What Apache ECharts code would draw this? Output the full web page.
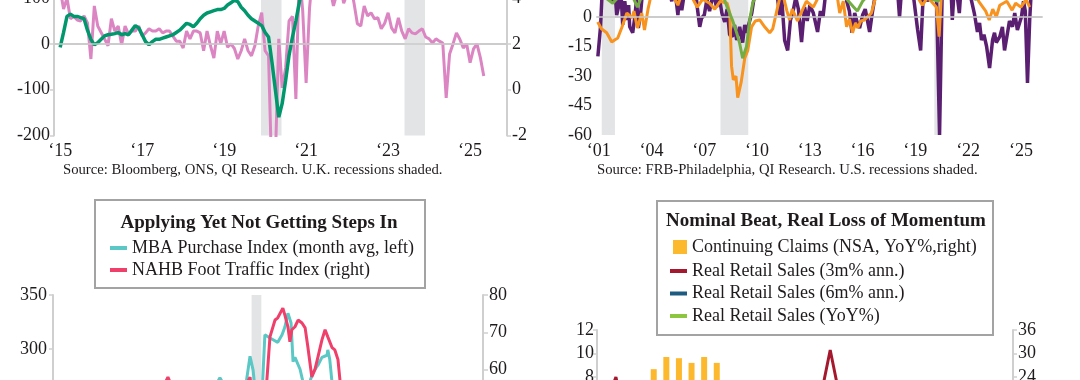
<!DOCTYPE html>
<html><head><meta charset="utf-8">
<script src="https://cdn.jsdelivr.net/npm/echarts@6/dist/echarts.min.js"></script>
<style>
html,body{margin:0;padding:0;width:1080px;height:380px;overflow:hidden;background:#fff;}
.p{position:absolute;}
</style></head><body>
<div id="tl" class="p" style="left:0;top:-100px;width:540px;height:300px"></div>
<div id="tr" class="p" style="left:540px;top:-100px;width:540px;height:300px"></div>
<div id="bl" class="p" style="left:0;top:190px;width:540px;height:400px"></div>
<div id="br" class="p" style="left:540px;top:190px;width:540px;height:400px"></div>
<script>
// ---------- DATA ----------
// Top-left (UK): monthly from Jan 2015
const ukStart = 2015;
const ukYears = [2015, 2017, 2019, 2021, 2023, 2025];
const ukRecessions = [[2019.9, 2020.4], [2023.4, 2023.9]];
const ukPink = [120,76,100,55,60,52,50,61,46,-33,83,39,
  25,11,-4,55,28,39,-2,39,22,28,28,39,
  17,24,33,28,28,33,24,28,28,17,6,6,
  -9,28,11,28,28,24,-15,28,-4,-31,28,0,
  28,-7,0,-10,-33,-15,11,-15,-26,-4,40,68,
  -15,-26,-300,-250,11,-96,-52,50,60,-120,160,72,
  -85,78,160,180,170,140,150,120,83,110,130,89,
  110,130,90,44,39,83,61,68,55,57,33,45,
  68,35,24,57,28,11,33,24,22,28,33,15,
  11,2,11,6,2,-118,-22,0,24,10,-9,0,
  -41,-11,0,-30,-70];
const ukGreen = [1.85,2.5,3.2,3.3,3.2,3.2,3.15,3.1,2.6,2.2,1.96,2.05,
  2.2,2.35,2.4,2.42,2.45,2.5,2.4,2.45,2.4,2.6,2.8,2.7,
  2.4,2.1,1.96,2.1,2.2,2.2,2.25,2.3,2.35,2.4,2.5,2.6,
  2.75,2.9,2.85,2.75,2.9,3.1,3.25,3.35,3.4,3.45,3.5,3.5,
  3.55,3.7,3.8,3.9,3.85,3.6,3.45,3.25,3.1,3.0,2.9,2.8,
  2.5,2.3,1.2,0.0,-1.2,-0.6,0.4,1.5,2.3,3.0,3.8,4.6];

// Top-right (US, FRB-Philadelphia): [year, value]
const usYears = [2001, 2004, 2007, 2010, 2013, 2016, 2019, 2022, 2025];
const usRecessions = [[2001.17, 2001.92], [2007.92, 2009.5], [2020.08, 2020.33]];
const usPurple = [[2000.95,-20],[2001.1,-5],[2001.2,14],[2001.4,18],[2001.6,11],[2001.8,7],[2001.9,16],[2002.02,1],[2002.12,5],[2002.25,15],[2002.36,-4],[2002.48,8],[2002.59,-1.5],[2002.7,6],[2002.76,-5],[2002.93,-8],[2003.05,0],[2003.15,9],[2003.25,-5.6],[2003.38,2],[2003.5,14],[2003.7,25],[2004.0,32],[2004.4,28],[2004.7,24],[2004.95,16],[2005.15,8],[2005.3,16],[2005.5,1],[2005.6,12],[2005.72,3.5],[2005.9,14],[2006.1,18],[2006.3,9],[2006.5,14],[2006.6,5],[2006.74,-5],[2006.85,-0.5],[2007.0,1],[2007.15,9],[2007.3,3],[2007.5,12],[2007.7,5],[2007.85,10],[2008.0,2],[2008.16,-2.5],[2008.3,4],[2008.44,-9],[2008.6,-10],[2008.72,-4],[2008.84,-11.7],[2009.01,-5],[2009.18,-13],[2009.3,-4],[2009.4,-8],[2009.7,2],[2009.9,14],[2010.2,20],[2010.5,12],[2010.8,18],[2011.0,22],[2011.28,1],[2011.4,10],[2011.57,-12],[2011.74,-17],[2011.9,-1.5],[2012.05,3],[2012.2,10],[2012.35,4],[2012.53,-12.7],[2012.7,5],[2012.85,-2],[2013.0,6],[2013.2,2],[2013.44,-7.6],[2013.6,3],[2013.75,0],[2013.9,12],[2014.2,18],[2014.6,22],[2014.9,20],[2015.1,8],[2015.25,3],[2015.4,-8],[2015.55,2],[2015.7,-3],[2015.83,-5.6],[2016.0,1],[2016.15,4],[2016.4,-7.6],[2016.55,2],[2016.7,10],[2016.95,20],[2017.2,35],[2017.6,25],[2017.9,24],[2018.1,0],[2018.25,18],[2018.6,14],[2018.9,10],[2019.13,-6.6],[2019.3,-17],[2019.45,12],[2019.7,8],[2019.85,14],[2020.0,10],[2020.2,12],[2020.375,-60],[2020.55,25],[2020.8,30],[2021.0,20],[2021.1,-1.5],[2021.25,20],[2021.5,2],[2021.7,28],[2022.0,15],[2022.2,8],[2022.35,2],[2022.53,-7.6],[2022.65,-3],[2022.76,-11.7],[2022.9,-9],[2023.05,-15],[2023.22,-26],[2023.39,-11.7],[2023.5,-8],[2023.6,-13],[2023.8,-10],[2023.95,-5],[2024.07,-17],[2024.24,-8],[2024.35,-2],[2024.52,-5],[2024.65,2],[2024.8,-6.6],[2025.03,0],[2025.15,8],[2025.25,3],[2025.375,-33.5],[2025.5,-1.5],[2025.6,15]];
const usOrange = [[2000.94,-2.5],[2001.15,-6],[2001.45,-8],[2001.74,-12.7],[2001.9,-11.7],[2002.08,-10.7],[2002.3,-5.6],[2002.6,2],[2002.9,-0.5],[2003.0,3],[2003.2,-5.6],[2003.44,2],[2003.6,-6.6],[2003.8,4],[2004.0,12],[2004.5,22],[2005.0,15],[2005.5,6],[2005.8,14],[2006.3,10],[2006.6,5],[2006.9,9],[2007.3,7],[2007.6,4],[2007.9,8],[2008.3,7],[2008.45,2],[2008.55,-25],[2008.65,-32],[2008.8,-30],[2008.9,-41],[2009.1,-33],[2009.3,-21],[2009.47,-17],[2009.69,-5],[2009.9,-2],[2010.15,-1.5],[2010.43,-5],[2010.72,-8],[2010.89,-6],[2011.17,5],[2011.4,14],[2011.7,3],[2011.85,-1.5],[2012.0,4],[2012.3,-2],[2012.55,3],[2012.8,8],[2013.2,5],[2013.6,12],[2014.0,18],[2014.4,20],[2014.7,2],[2014.9,8],[2015.09,-5],[2015.25,-1],[2015.43,-8],[2015.6,-3],[2015.72,-5.6],[2015.9,-2],[2016.1,-1.5],[2016.5,2],[2016.8,12],[2017.2,25],[2018.0,22],[2019.0,12],[2019.4,6],[2019.7,10],[2020.2,5],[2020.35,-10],[2020.5,15],[2021.0,35],[2022.0,25],[2022.6,8],[2023.0,3],[2023.2,-1.5],[2023.4,4],[2023.6,0],[2023.8,6],[2024.2,8],[2024.5,3.5],[2024.7,7],[2025.0,5],[2025.3,9],[2025.5,5]];
const usGreen = [[2000.95,12],[2001.5,9],[2001.8,7],[2002.1,10],[2002.5,12],[2003.0,9],[2003.2,5],[2003.5,12],[2004.0,25],[2006.0,18],[2007.5,12],[2008.1,10],[2008.3,5],[2008.6,-1.5],[2008.84,-8],[2009.0,-13],[2009.18,-21],[2009.4,-15],[2009.58,-1.5],[2009.75,7],[2010.0,12],[2011.0,16],[2013.0,12],[2015.0,10],[2015.5,5],[2015.7,3],[2016.0,8],[2017.0,18],[2019.0,12],[2020.3,8],[2021.0,25],[2022.4,9],[2023.0,10],[2025.0,12],[2025.6,12]];

// Bottom-left: [year, value]
const hYears = [2015, 2017, 2019, 2021, 2023, 2025];
const hRecessions = [[2020.08, 2020.33]];
const mbaPurchase = [[2015.0,200],[2016.0,220],[2017.0,235],[2018.0,240],[2018.8,255],[2019.1,262],[2019.27,273],[2019.45,262],[2019.7,255],[2019.9,258],[2020.04,293],[2020.12,280],[2020.2,250],[2020.3,215],[2020.37,275],[2020.42,313],[2020.55,310],[2020.75,306],[2020.86,313],[2020.93,320],[2021.01,333],[2021.09,324],[2021.14,288],[2021.19,292],[2021.32,281],[2021.39,270],[2021.5,262],[2021.65,278],[2021.78,285],[2021.88,292],[2022.01,294],[2022.03,299],[2022.08,290],[2022.14,268],[2022.3,240],[2022.8,180],[2023.5,160],[2024.5,150],[2025.5,165]];
const nahbTraffic = [[2015.0,45],[2016.0,48],[2017.0,52],[2017.8,55],[2017.94,58],[2018.1,54],[2019.0,50],[2019.9,55],[2020.04,58],[2020.2,45],[2020.35,35],[2020.47,57],[2020.55,68.8],[2020.68,73.3],[2020.75,73.9],[2020.88,76.5],[2020.93,74.7],[2021.01,71.5],[2021.06,67.5],[2021.11,70.7],[2021.19,71.5],[2021.27,73.3],[2021.37,72.5],[2021.45,71.2],[2021.52,66.1],[2021.62,58.1],[2021.7,60],[2021.78,63.5],[2021.88,68],[2021.96,70.7],[2022.03,68.8],[2022.14,65.9],[2022.21,65.3],[2022.29,62.7],[2022.34,57.3],[2022.5,50],[2023.0,40],[2024.0,35],[2025.0,30],[2025.5,28]];
const hLeftTicks = [100, 150, 200, 250, 300, 350];
const hRightTicks = [10, 20, 30, 40, 50, 60, 70, 80];

// Bottom-right: monthly categories
const rsMonths = ['Nov-22','Dec-22','Jan-23','Feb-23','Mar-23','Apr-23','May-23','Jun-23','Jul-23','Aug-23','Sep-23','Oct-23','Nov-23','Dec-23','Jan-24','Feb-24','Mar-24','Apr-24','May-24','Jun-24','Jul-24','Aug-24','Sep-24','Oct-24','Nov-24','Dec-24','Jan-25','Feb-25','Mar-25','Apr-25','May-25','Jun-25','Jul-25'];
const claimsYoY = [14,18,20,22,26.0,29.1,28.8,27.6,29.1,27.6,21,19,16,13,10,8,6,5,4,5,6,5,4,5,6,7,6,5,4,5,6,5,4];
const rrs3m = [5,8.0,3,5,2,0,1,3,2,4,3,1,-1,2,3,0,2,5,10.3,5,3,4,2,5,6,4,2,0,-2,1,3,2,1];
const rrs6m = [4,5,5,4,3,2,2,2,2,3,2,2,1,1,2,2,2,3,5,6,5,4,4,3,4,5,4,3,2,1,1,2,2];
const rrsYoY = [1,1,0,1,1,0,0,1,1,2,2,2,2,2,1,1,1,2,2,3,3,3,3,3,3,3,3,2,2,2,2,2,2];

// ---------- STYLE ----------
const FONT = "'Liberation Serif', 'DejaVu Serif', serif";
const TXT = '#1f1b1c';
const AX = '#cfcfcf';
const SHADE = '#e2e4e6';
const yr2 = v => '\u2018' + String(Math.round(v)).slice(2);
const lbl = (extra) => Object.assign({fontFamily: FONT, fontSize: 18, color: TXT}, extra || {});
const axLine = {show: true, lineStyle: {color: AX, width: 2}};
const tick = (len) => ({show: true, length: len, lineStyle: {color: AX, width: 1.5}});
const shadeSeries = (periods, extra) => Object.assign({
  type: 'line', data: [], z: 1, silent: true,
  markArea: {silent: true, itemStyle: {color: SHADE}, data: periods.map(r => [{xAxis: r[0]}, {xAxis: r[1]}])}
}, extra || {});
const zeroLine = {silent: true, symbol: 'none', label: {show: false}, lineStyle: {color: '#cbcbcb', width: 1.5, type: 'solid'}, data: [{yAxis: 0}]};
const lineS = (data, color, width, yi, z) => ({type: 'line', data: data, yAxisIndex: yi, symbol: 'none', z: z,
  lineStyle: {color: color, width: width}, itemStyle: {color: color}, clip: true, animation: false});
const legTxt = {fontFamily: FONT, fontSize: 18, color: TXT, lineHeight: 22};

// ---------- TOP LEFT ----------
echarts.init(document.getElementById('tl')).setOption({
  animation: false,
  grid: {left: 54, top: 52.3, width: 453, height: 183.2},
  xAxis: {type: 'value', min: 2014.85, max: 2025.9, axisLine: axLine, axisTick: {show: false}, splitLine: {show: false},
    axisLabel: lbl({customValues: ukYears, formatter: yr2, margin: 7})},
  yAxis: [
    {type: 'value', min: -200, max: 200, interval: 100, axisLine: axLine, axisTick: tick(4), splitLine: {show: false}, axisLabel: lbl({margin: 4})},
    {type: 'value', min: -2, max: 6, interval: 2, position: 'right', axisLine: axLine, axisTick: tick(4), splitLine: {show: false}, axisLabel: lbl({margin: 5})}
  ],
  series: [
    shadeSeries(ukRecessions, {markLine: zeroLine}),
    lineS(ukPink.map((v, i) => [ukStart + i / 12, v]), '#db86c3', 3, 0, 3),
    lineS(ukGreen.map((v, i) => [ukStart + i / 12, v]), '#00976d', 3.5, 1, 4)
  ],
  graphic: [{type: 'text', left: 63, top: 263, z: 10, style: {text: 'Source: Bloomberg, ONS, QI Research. U.K. recessions shaded.', font: "14.7px 'Liberation Serif'", fill: TXT}}]
});

// ---------- TOP RIGHT ----------
echarts.init(document.getElementById('tr')).setOption({
  animation: false,
  grid: {left: 57, top: 58, width: 445, height: 177},
  xAxis: {type: 'value', min: 2000.9, max: 2026.2, axisLine: axLine, axisTick: {show: false}, splitLine: {show: false},
    axisLabel: lbl({customValues: usYears, formatter: yr2, margin: 7})},
  yAxis: [{type: 'value', min: -60, max: 30, interval: 15, axisLine: {show: false}, axisTick: {show: false}, splitLine: {show: false}, axisLabel: lbl({margin: 5})}],
  series: [
    shadeSeries(usRecessions, {markLine: zeroLine}),
    lineS(usPurple, '#5a1f70', 3.5, 0, 3),
    lineS(usOrange, '#f7931e', 3, 0, 4),
    lineS(usGreen, '#73ad43', 3, 0, 5)
  ],
  graphic: [{type: 'text', left: 57, top: 263, z: 10, style: {text: 'Source: FRB-Philadelphia, QI Research. U.S. recessions shaded.', font: "14.7px 'Liberation Serif'", fill: TXT}}]
});

// ---------- BOTTOM LEFT ----------
echarts.init(document.getElementById('bl')).setOption({
  animation: false,
  grid: {left: 53, top: 105, width: 430, height: 270},
  xAxis: {type: 'value', min: 2015, max: 2026, axisLine: axLine, axisTick: {show: false}, splitLine: {show: false},
    axisLabel: lbl({customValues: hYears, formatter: yr2, margin: 8})},
  yAxis: [
    {type: 'value', min: 100, max: 350, axisLine: axLine, axisTick: Object.assign(tick(4), {customValues: hLeftTicks}), splitLine: {show: false},
      axisLabel: lbl({customValues: hLeftTicks, margin: 6})},
    {type: 'value', min: 8, max: 80, position: 'right', axisLine: axLine, axisTick: Object.assign(tick(5), {customValues: hRightTicks}), splitLine: {show: false},
      axisLabel: lbl({customValues: hRightTicks, margin: 6})}
  ],
  legend: {left: 110, top: 47, padding: 0, orient: 'vertical', itemWidth: 17, itemHeight: 4, itemGap: 0, icon: 'rect', selectedMode: false, z: 60,
    textStyle: legTxt,
    data: ['MBA Purchase Index (month avg, left)', 'NAHB Foot Traffic Index (right)']},
  series: [
    shadeSeries(hRecessions),
    Object.assign(lineS(mbaPurchase, '#5cc8c6', 3, 0, 3), {name: 'MBA Purchase Index (month avg, left)'}),
    Object.assign(lineS(nahbTraffic, '#ef3f6b', 3, 1, 4), {name: 'NAHB Foot Traffic Index (right)'})
  ],
  graphic: [
    {type: 'rect', z: 50, shape: {x: 95, y: 10, width: 330, height: 88}, style: {fill: '#fff', stroke: '#a3a3a3', lineWidth: 2}},
    {type: 'text', z: 51, x: 259, y: 33, style: {text: 'Applying Yet Not Getting Steps In', font: "bold 19px 'Liberation Serif'", fill: TXT, align: 'center', verticalAlign: 'middle'}}
  ]
});

// ---------- BOTTOM RIGHT ----------
echarts.init(document.getElementById('br')).setOption({
  animation: false,
  grid: {left: 57, top: 140, width: 416, height: 211.5},
  xAxis: {type: 'category', data: rsMonths, axisLine: axLine, axisTick: {show: false}, axisLabel: lbl({interval: 5})},
  yAxis: [
    {type: 'value', min: -6, max: 12, interval: 2, axisLine: axLine, axisTick: tick(4), splitLine: {show: false}, axisLabel: lbl({margin: 3})},
    {type: 'value', min: -18, max: 36, interval: 6, position: 'right', axisLine: axLine, axisTick: tick(4), splitLine: {show: false}, axisLabel: lbl({margin: 5})}
  ],
  legend: [
    {left: 133, top: 46, padding: 0, itemWidth: 14, itemHeight: 14, icon: 'rect', selectedMode: false, z: 60,
      textStyle: legTxt,
      data: ['Continuing Claims (NSA, YoY%,right)']},
    {left: 130, top: 70, padding: 0, orient: 'vertical', itemWidth: 17, itemHeight: 4, itemGap: 0.5, icon: 'rect', selectedMode: false, z: 60,
      textStyle: legTxt,
      data: ['Real Retail Sales (3m% ann.)', 'Real Retail Sales (6m% ann.)', 'Real Retail Sales (YoY%)']}
  ],
  series: [
    {type: 'bar', name: 'Continuing Claims (NSA, YoY%,right)', data: claimsYoY, yAxisIndex: 1, barWidth: 6, itemStyle: {color: '#fdb92e'}, z: 2},
    Object.assign(lineS(rrs6m, '#1d5b80', 3, 0, 3), {name: 'Real Retail Sales (6m% ann.)'}),
    Object.assign(lineS(rrsYoY, '#8cc63f', 3, 0, 4), {name: 'Real Retail Sales (YoY%)'}),
    Object.assign(lineS(rrs3m, '#a5192f', 3, 0, 5), {name: 'Real Retail Sales (3m% ann.)'})
  ],
  graphic: [
    {type: 'rect', z: 50, shape: {x: 117, y: 11, width: 336, height: 134}, style: {fill: '#fff', stroke: '#a3a3a3', lineWidth: 2}},
    {type: 'text', z: 51, x: 286, y: 31, style: {text: 'Nominal Beat, Real Loss of Momentum', font: "bold 19px 'Liberation Serif'", fill: TXT, align: 'center', verticalAlign: 'middle'}}
  ]
});
</script>
</body></html>
